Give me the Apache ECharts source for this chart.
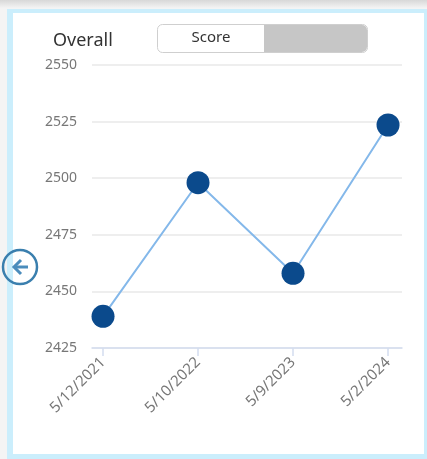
<!DOCTYPE html>
<html>
<head>
<meta charset="utf-8">
<script src="https://cdn.jsdelivr.net/npm/echarts@6/dist/echarts.min.js"></script>
<style>
  html, body { margin: 0; padding: 0; }
  body { width: 427px; height: 459px; position: relative; overflow: hidden;
         background: linear-gradient(to bottom, #d8d8d8 0px, #f4f4f4 8px, #f4f4f4 100%); }
  #frame { position: absolute; left: 7px; top: 9px; width: 411px; height: 441px;
           background: #fff; border-style: solid; border-color: #cbeefc;
           border-width: 4px 3px 5px 6px; }
  #main { position: absolute; left: 0; top: 0; width: 427px; height: 459px; }
</style>
</head>
<body>
<div id="frame"></div>
<div id="main"></div>
<script>
var dates = ['5/12/2021', '5/10/2022', '5/9/2023', '5/2/2024'];
var scores = [2439, 2498, 2458, 2523.5];
var yTicks = [2425, 2450, 2475, 2500, 2525, 2550];

var chart = echarts.init(document.getElementById('main'));

var points = scores.map(function (v, i) { return [i, v]; });

chart.setOption({
    animation: false,
    title: {
        text: 'Overall',
        left: 48,
        top: 27,
        textStyle: { fontSize: 18, fontWeight: 'normal', color: '#333', fontFamily: 'Noto Sans' }
    },
    graphic: [
        { type: 'rect', shape: { x: 157.5, y: 24.5, width: 210, height: 28, r: 5 },
          style: { fill: '#fff', stroke: '#cfcfcf', lineWidth: 1 } },
        { type: 'rect', shape: { x: 264, y: 25, width: 103, height: 27, r: [0, 5, 5, 0] },
          style: { fill: '#c6c6c6' } },
        { type: 'text', x: 211, y: 38,
          style: { text: 'Score', fill: '#333', font: '15px "Noto Sans"', align: 'center', verticalAlign: 'middle' } },
        { type: 'circle', shape: { cx: 20, cy: 267, r: 17 },
          style: { fill: 'none', stroke: '#3a7fae', lineWidth: 2.5 } },
        { type: 'polyline', shape: { points: [[21, 260], [14, 267], [21, 274]] },
          style: { fill: 'none', stroke: '#4a8cbc', lineWidth: 3 } },
        { type: 'line', shape: { x1: 14, y1: 267, x2: 28, y2: 267 },
          style: { stroke: '#4a8cbc', lineWidth: 3 } }
    ],
    grid: { left: 92, right: 25, top: 65, bottom: 111, containLabel: false },
    xAxis: {
        type: 'value',
        min: -0.116,
        max: 3.147,
        splitLine: { show: false },
        axisLine: { show: true, lineStyle: { color: '#d3ddef', width: 1.5 } },
        axisTick: { show: true, customValues: [0, 1, 2, 3], length: 8, lineStyle: { color: '#d3ddef', width: 1.5 } },
        axisLabel: {
            customValues: [0, 1, 2, 3],
            rotate: 45,
            margin: 12,
            color: '#777',
            fontSize: 15,
            fontFamily: 'Noto Sans',
            formatter: function (v) { return dates[Math.round(v)]; }
        }
    },
    yAxis: {
        type: 'value',
        min: yTicks[0],
        max: yTicks[yTicks.length - 1],
        interval: 25,
        axisLine: { show: false },
        axisTick: { show: false },
        axisLabel: { color: '#777', fontSize: 14, margin: 15, fontFamily: 'Noto Sans',
                     formatter: function (v) { return String(v); } },
        splitLine: { lineStyle: { color: '#e9e9e9', width: 1.5 } }
    },
    series: [{
        type: 'line',
        data: points,
        symbol: 'circle',
        symbolSize: 23,
        lineStyle: { color: '#84b8ea', width: 2 },
        itemStyle: { color: '#0b4a8c' }
    }]
});
</script>
</body>
</html>
